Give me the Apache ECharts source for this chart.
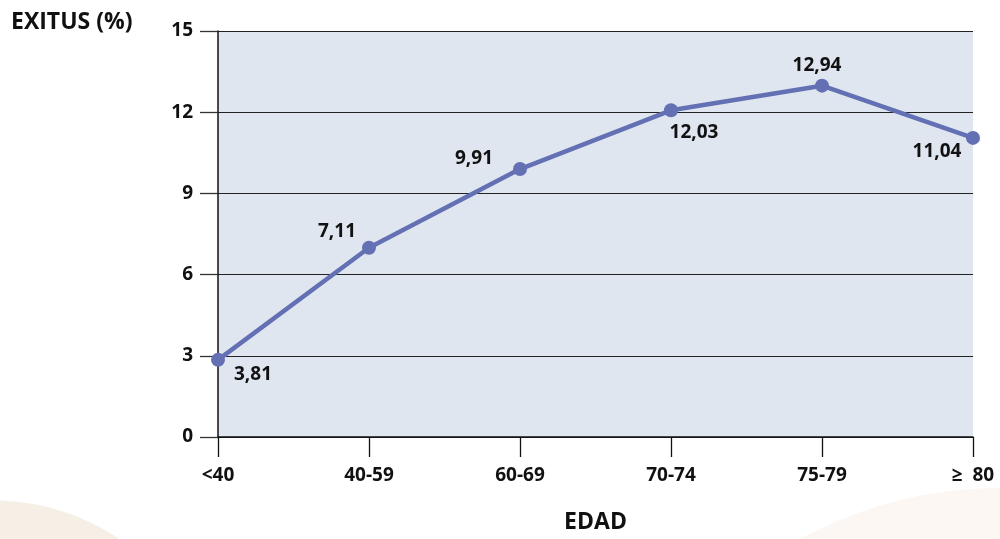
<!DOCTYPE html>
<html>
<head>
<meta charset="utf-8">
<script src="https://cdn.jsdelivr.net/npm/echarts@6/dist/echarts.min.js"></script>
<style>html,body{margin:0;padding:0;background:#fff;overflow:hidden}#c{width:1000px;height:539px}</style>
</head>
<body>
<div id="c"></div>
<script>
// ---- data ----
var categories = ['<40', '40-59', '60-69', '70-74', '75-79', '\u2265  80'];
var exitusValues = [2.85, 6.99, 9.9, 12.07, 12.98, 11.05];
var valueLabels = ['3,81', '7,11', '9,91', '12,03', '12,94', '11,04'];
var yTicks = [0, 3, 6, 9, 12, 15];

// ---- style ----
var FONT = '"Open Sans", "Noto Sans", sans-serif';
var labelOffsets = [[35, 15], [-32, -16], [-46, -10], [23, 22], [-5, -20], [-36, 14]];

var chart = echarts.init(document.getElementById('c'), null, {renderer: 'canvas', width: 1000, height: 539});
var seriesData = exitusValues.map(function (v, i) {
  return {
    value: v,
    label: {
      show: true,
      position: 'inside',
      offset: labelOffsets[i],
      formatter: valueLabels[i],
      color: '#111',
      fontFamily: FONT,
      fontWeight: 'bold',
      fontSize: 19,
      align: 'center',
      verticalAlign: 'middle'
    }
  };
});

chart.setOption({
  backgroundColor: '#ffffff',
  animation: false,
  graphic: [
    {type: 'circle', z: -10, silent: true, shape: {cx: -9, cy: 731, r: 231}, style: {fill: '#f6efe6'}},
    {type: 'circle', z: -10, silent: true, shape: {cx: 999, cy: 901, r: 413}, style: {fill: '#fcf7f2'}}
  ],
  title: {
    text: 'EXITUS (%)',
    left: 11,
    top: 11,
    padding: 0,
    textStyle: {fontFamily: FONT, fontWeight: 'bold', fontSize: 23, color: '#111'}
  },
  grid: {
    left: 218, top: 31, width: 755, height: 410,
    show: true, backgroundColor: '#dfe6f0', borderWidth: 0
  },
  xAxis: {
    type: 'category',
    data: categories,
    boundaryGap: false,
    name: 'EDAD',
    nameLocation: 'middle',
    nameGap: 74,
    nameTextStyle: {fontFamily: FONT, fontWeight: 'bold', fontSize: 23, color: '#111', verticalAlign: 'top'},
    axisLine: {show: true, lineStyle: {color: '#111', width: 1.5}},
    axisTick: {show: true, length: 20, lineStyle: {color: '#111', width: 1.3}},
    axisLabel: {margin: 29, fontFamily: FONT, fontWeight: 'bold', fontSize: 19, color: '#111'},
    splitLine: {show: false}
  },
  yAxis: {
    type: 'value',
    min: yTicks[0],
    max: yTicks[yTicks.length - 1],
    interval: 3,
    axisLine: {show: true, lineStyle: {color: '#111', width: 1.5}},
    axisTick: {show: true, length: 18, lineStyle: {color: '#333', width: 1.3}},
    axisLabel: {margin: 25, fontFamily: FONT, fontWeight: 'bold', fontSize: 19, color: '#111'},
    splitLine: {show: true, lineStyle: {color: '#222', width: 1.2}}
  },
  series: [{
    type: 'line',
    data: seriesData,
    symbol: 'circle',
    symbolSize: 14,
    lineStyle: {color: '#6470b4', width: 4.5},
    itemStyle: {color: '#6470b4'},
    z: 5
  }]
});
</script>
</body>
</html>
